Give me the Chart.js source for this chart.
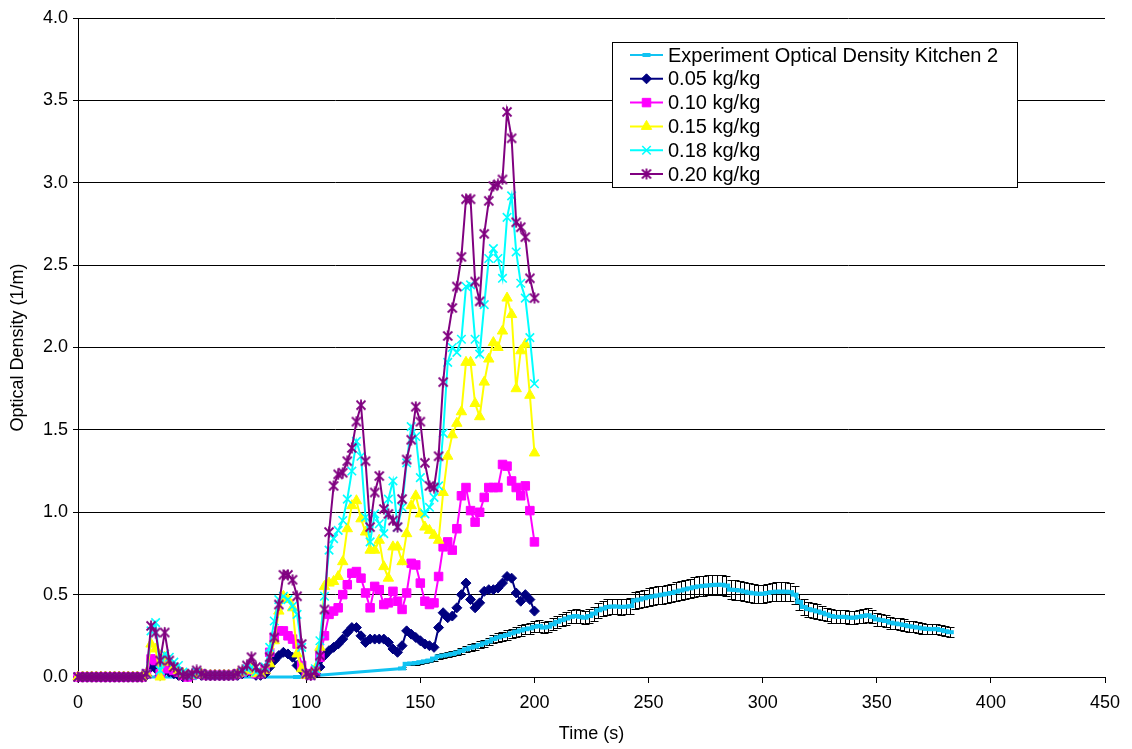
<!DOCTYPE html>
<html>
<head>
<meta charset="utf-8">
<script src="https://cdn.jsdelivr.net/npm/chart.js@4.4.0/dist/chart.umd.min.js"></script>
<style>
  html, body { margin: 0; padding: 0; background: #fff; }
  #wrap { width: 1132px; height: 749px; }
</style>
</head>
<body>
<div id="wrap"><canvas id="odChart" width="1132" height="749"></canvas></div>
<script>
// model output every 2 s, 0..200 s
var modelTimes = [];
for (var t = 0; t <= 200; t += 2) modelTimes.push(t);

var od005 = [0, 0, 0, 0, 0, 0, 0, 0, 0, 0, 0, 0, 0, 0, 0,
    0.01, 0.06, 0.05, 0.01, 0.04, 0.03, 0.02, 0.01, 0.00, 0.00,
    0.01, 0.02, 0.01, 0.01, 0.01, 0.01, 0.01, 0.01, 0.01, 0.01, 0.01, 0.02, 0.03, 0.03,
    0.01, 0.01, 0.02, 0.06, 0.10, 0.13, 0.15, 0.14, 0.12, 0.07, 0.04, 0.02, 0.01, 0.02,
    0.06, 0.13, 0.16, 0.18, 0.20, 0.23, 0.27, 0.30, 0.30, 0.25, 0.21, 0.23, 0.23, 0.23, 0.23, 0.21, 0.17, 0.15, 0.19,
    0.28, 0.26, 0.24, 0.22, 0.20, 0.19, 0.18, 0.30, 0.39, 0.36, 0.37, 0.42, 0.50, 0.57, 0.47,
    0.42, 0.45, 0.52, 0.53, 0.53, 0.54, 0.57, 0.61, 0.60, 0.51, 0.46, 0.50, 0.47, 0.40];

var od010 = [0, 0, 0, 0, 0, 0, 0, 0, 0, 0, 0, 0, 0, 0, 0,
    0.02, 0.11, 0.10, 0.02, 0.07, 0.05, 0.04, 0.03, 0.01, 0.00,
    0.01, 0.02, 0.02, 0.01, 0.01, 0.01, 0.01, 0.01, 0.01, 0.01, 0.02, 0.03, 0.04, 0.04,
    0.02, 0.02, 0.05, 0.15, 0.24, 0.28, 0.28, 0.25, 0.23, 0.20, 0.07, 0.02, 0.01, 0.04,
    0.12, 0.25, 0.38, 0.40, 0.42, 0.50, 0.56, 0.63, 0.64, 0.60, 0.51, 0.42, 0.55, 0.53, 0.44, 0.45, 0.52, 0.46, 0.41,
    0.51, 0.69, 0.68, 0.57, 0.46, 0.44, 0.45, 0.61, 0.79, 0.82, 0.77, 0.90, 1.10, 1.15, 1.01,
    0.94, 1.00, 1.09, 1.15, 1.15, 1.15, 1.29, 1.28, 1.19, 1.15, 1.10, 1.16, 1.01, 0.82];

var od015 = [0, 0, 0, 0, 0, 0, 0, 0, 0, 0, 0, 0, 0, 0, 0,
    0.02, 0.20, 0.17, 0.00, 0.12, 0.09, 0.06, 0.04, 0.02, 0.01,
    0.01, 0.02, 0.02, 0.01, 0.01, 0.01, 0.01, 0.01, 0.01, 0.01, 0.02, 0.03, 0.04, 0.05,
    0.02, 0.02, 0.04, 0.08, 0.22, 0.40, 0.49, 0.47, 0.42, 0.14, 0.05, 0.01, 0.01, 0.05,
    0.18, 0.55, 0.57, 0.58, 0.61, 0.70, 0.90, 1.04, 1.07, 0.96, 0.88, 0.77, 0.77, 0.83, 0.67, 0.60, 0.79, 0.79, 0.70,
    0.87, 1.04, 1.10, 0.99, 0.91, 0.89, 0.86, 0.83, 1.12, 1.34, 1.47, 1.54, 1.61, 1.91, 1.91,
    1.66, 1.58, 1.79, 1.93, 2.03, 2.00, 2.10, 2.30, 2.20, 1.75, 1.98, 2.02, 1.71, 1.36];

var od018 = [0, 0, 0, 0, 0, 0, 0, 0, 0, 0, 0, 0, 0, 0, 0,
    0.02, 0.28, 0.33, 0.04, 0.14, 0.12, 0.09, 0.07, 0.03, 0.01,
    0.01, 0.03, 0.02, 0.01, 0.01, 0.01, 0.01, 0.01, 0.01, 0.01, 0.02, 0.03, 0.05, 0.06,
    0.03, 0.02, 0.06, 0.18, 0.34, 0.47, 0.49, 0.47, 0.43, 0.38, 0.18, 0.02, 0.01, 0.05,
    0.22, 0.49, 0.77, 0.84, 0.89, 0.95, 1.08, 1.25, 1.43, 1.34, 0.97, 0.82, 0.99, 0.93, 0.87, 1.08, 1.19, 0.91, 1.03,
    1.30, 1.52, 1.46, 1.21, 0.99, 1.03, 1.09, 1.16, 1.48, 1.91, 2.00, 1.97, 2.05, 2.37, 2.38,
    2.05, 1.96, 2.26, 2.54, 2.60, 2.54, 2.42, 2.79, 2.92, 2.58, 2.39, 2.30, 2.06, 1.78];

var od020 = [0, 0, 0, 0, 0, 0, 0, 0, 0, 0, 0, 0, 0, 0, 0,
    0.02, 0.31, 0.27, 0.10, 0.27, 0.10, 0.06, 0.03, 0.01, 0.01,
    0.02, 0.04, 0.02, 0.01, 0.01, 0.01, 0.01, 0.01, 0.01, 0.01, 0.02, 0.04, 0.07, 0.12,
    0.06, 0.02, 0.05, 0.12, 0.24, 0.44, 0.62, 0.62, 0.59, 0.49, 0.20, 0.02, 0.01, 0.03,
    0.13, 0.41, 0.88, 1.16, 1.23, 1.24, 1.31, 1.39, 1.55, 1.65, 1.31, 0.91, 1.12, 1.22, 1.02, 0.99, 0.95, 0.91, 1.08,
    1.32, 1.44, 1.64, 1.55, 1.30, 1.16, 1.15, 1.34, 1.79, 2.07, 2.24, 2.37, 2.55, 2.90, 2.90,
    2.40, 2.28, 2.69, 2.89, 2.98, 2.99, 3.02, 3.43, 3.27, 2.76, 2.73, 2.67, 2.42, 2.30];

// experiment: sparse at first, then every 2 s from 144 s
var expTimes = [0, 96, 142];
for (var s = 144; s <= 382; s += 2) expTimes.push(s);
var expValues = [0.000, 0.000, 0.052,
    0.080, 0.082, 0.085, 0.090, 0.095, 0.100, 0.112, 0.125, 0.130, 0.135,
    0.140, 0.148, 0.158, 0.168, 0.178, 0.185, 0.195, 0.205, 0.215, 0.230,
    0.240, 0.248, 0.255, 0.265, 0.275, 0.282, 0.290, 0.295, 0.305, 0.310,
    0.300, 0.305, 0.320, 0.335, 0.345, 0.355, 0.365, 0.370, 0.365, 0.360,
    0.370, 0.385, 0.405, 0.415, 0.425, 0.428, 0.428, 0.425, 0.427, 0.430,
    0.465, 0.470, 0.478, 0.485, 0.490, 0.495, 0.500, 0.505, 0.510, 0.518,
    0.525, 0.532, 0.538, 0.545, 0.550, 0.553, 0.556, 0.558, 0.560, 0.560,
    0.555, 0.530, 0.528, 0.525, 0.518, 0.512, 0.508, 0.505, 0.505, 0.510,
    0.515, 0.518, 0.518, 0.518, 0.515, 0.500, 0.455, 0.425, 0.412, 0.405,
    0.398, 0.390, 0.380, 0.370, 0.365, 0.365, 0.365, 0.360, 0.360, 0.365,
    0.370, 0.375, 0.365, 0.350, 0.345, 0.340, 0.330, 0.325, 0.320, 0.315,
    0.308, 0.305, 0.300, 0.295, 0.292, 0.290, 0.292, 0.285, 0.278, 0.272];
var expErrorPct = 0.11; // percentage error bars, as in the spreadsheet

var seriesLabels = ["Experiment Optical Density Kitchen 2", "0.05 kg/kg", "0.10 kg/kg",
    "0.15 kg/kg", "0.18 kg/kg", "0.20 kg/kg"];

var FONT = '"Liberation Sans", Arial, sans-serif';

function pts(xs, ys) {
    return xs.map(function (x, i) { return { x: x, y: ys[i] }; });
}

// excel style star marker (x with a vertical bar)
function makeStar(color) {
    var c = document.createElement("canvas");
    c.width = 12;
    c.height = 12;
    var g = c.getContext("2d");
    g.strokeStyle = color;
    g.lineWidth = 1.8;
    g.beginPath();
    g.moveTo(1.5, 1.5); g.lineTo(10.5, 10.5);
    g.moveTo(10.5, 1.5); g.lineTo(1.5, 10.5);
    g.moveTo(6, 0.5); g.lineTo(6, 11.5);
    g.stroke();
    return c;
}

var errorBars = {
    id: "errorBars",
    beforeDatasetDraw: function (chart, args) {
        if (args.index !== 0) return;
        var ctx = chart.ctx, ys = chart.scales.y;
        ctx.save();
        ctx.strokeStyle = "#000";
        ctx.lineWidth = 1;
        args.meta.data.forEach(function (pt, i) {
            var v = expValues[i], e = v * expErrorPct;
            if (e <= 0) return;
            var top = Math.round(ys.getPixelForValue(v + e)) + 0.5;
            var bot = Math.round(ys.getPixelForValue(v - e)) + 0.5;
            var x = Math.round(pt.x) + 0.5;
            ctx.beginPath();
            ctx.moveTo(x, top); ctx.lineTo(x, bot);
            ctx.moveTo(x - 4, top); ctx.lineTo(x + 4, top);
            ctx.moveTo(x - 4, bot); ctx.lineTo(x + 4, bot);
            ctx.stroke();
        });
        ctx.restore();
    }
};

// legend box inside the plot, top right
var boxLegend = {
    id: "boxLegend",
    afterDraw: function (chart) {
        var ctx = chart.ctx;
        var x0 = 612, y0 = 42, w = 405, h = 145;
        ctx.save();
        ctx.fillStyle = "#fff";
        ctx.fillRect(x0, y0, w, h);
        ctx.strokeStyle = "#000";
        ctx.lineWidth = 1;
        ctx.strokeRect(x0 + 0.5, y0 + 0.5, w, h);
        ctx.font = "20px " + FONT;
        ctx.textBaseline = "middle";
        ctx.textAlign = "left";
        chart.data.datasets.forEach(function (ds, i) {
            var y = y0 + 13 + i * 23.8;
            ctx.strokeStyle = ds.borderColor;
            ctx.lineWidth = 2;
            ctx.beginPath();
            ctx.moveTo(630, y);
            ctx.lineTo(663, y);
            ctx.stroke();
            ctx.fillStyle = ds.pointBackgroundColor;
            ctx.strokeStyle = ds.pointBorderColor;
            ctx.lineWidth = ds.pointBorderWidth;
            Chart.helpers.drawPoint(ctx, {
                pointStyle: ds.pointStyle,
                radius: ds.pointRadius,
                rotation: 0,
                borderWidth: ds.pointBorderWidth
            }, 646.5, y);
            ctx.fillStyle = "#000";
            ctx.fillText(ds.label, 668, y + 1);
        });
        ctx.restore();
    }
};

function model(label, values, color, style, radius, bw, order) {
    return {
        label: label,
        data: pts(modelTimes, values),
        borderColor: color,
        borderWidth: 2,
        pointStyle: style,
        pointRadius: radius,
        pointBackgroundColor: color,
        pointBorderColor: color,
        pointBorderWidth: bw,
        tension: 0,
        fill: false,
        clip: false,
        order: order
    };
}

var expColor = "#11C3F2";
var ctx = document.getElementById("odChart").getContext("2d");
var odChart = new Chart(ctx, {
    type: "line",
    data: {
        datasets: [
            {
                label: seriesLabels[0],
                data: pts(expTimes, expValues),
                borderColor: expColor,
                borderWidth: 3,
                pointStyle: "line",
                pointRadius: 4,
                pointBackgroundColor: expColor,
                pointBorderColor: expColor,
                pointBorderWidth: 4,
                tension: 0,
                fill: false,
                clip: false,
                order: 6
            },
            model(seriesLabels[1], od005, "#000080", "rectRot", 5, 1, 5),
            model(seriesLabels[2], od010, "#FF00FF", "rect", 6, 1, 4),
            model(seriesLabels[3], od015, "#FFFF00", "triangle", 6, 1, 3),
            model(seriesLabels[4], od018, "#00FFFF", "crossRot", 6, 1.6, 2),
            model(seriesLabels[5], od020, "#800080", makeStar("#800080"), 6, 1, 1)
        ]
    },
    options: {
        responsive: false,
        animation: false,
        events: [],
        layout: { padding: { left: 4, right: 27, top: 18, bottom: 4 } },
        plugins: {
            legend: { display: false },
            tooltip: { enabled: false }
        },
        scales: {
            x: {
                type: "linear",
                min: 0,
                max: 450,
                ticks: { stepSize: 50, color: "#000", padding: 9, font: { size: 18, family: FONT } },
                grid: { drawOnChartArea: false, drawTicks: true, tickLength: 6, color: "#000" },
                border: { display: true, color: "#000", width: 1 },
                title: { display: true, text: "Time (s)", color: "#000", padding: 0, font: { size: 18, family: FONT } },
                afterFit: function (scale) { scale.height = 68; }
            },
            y: {
                min: 0,
                max: 4,
                ticks: {
                    stepSize: 0.5, color: "#000", padding: 5, font: { size: 18, family: FONT },
                    callback: function (v) { return Number(v).toFixed(1); }
                },
                grid: { color: "#000", lineWidth: 1, drawTicks: true, tickLength: 5 },
                border: { display: true, color: "#000", width: 1 },
                title: {
                    display: true, text: "Optical Density (1/m)", color: "#000",
                    padding: { top: 3, bottom: 0 }, font: { size: 18, family: FONT }
                },
                afterFit: function (scale) { scale.width = 74; }
            }
        }
    },
    plugins: [errorBars, boxLegend]
});
</script>
</body>
</html>
